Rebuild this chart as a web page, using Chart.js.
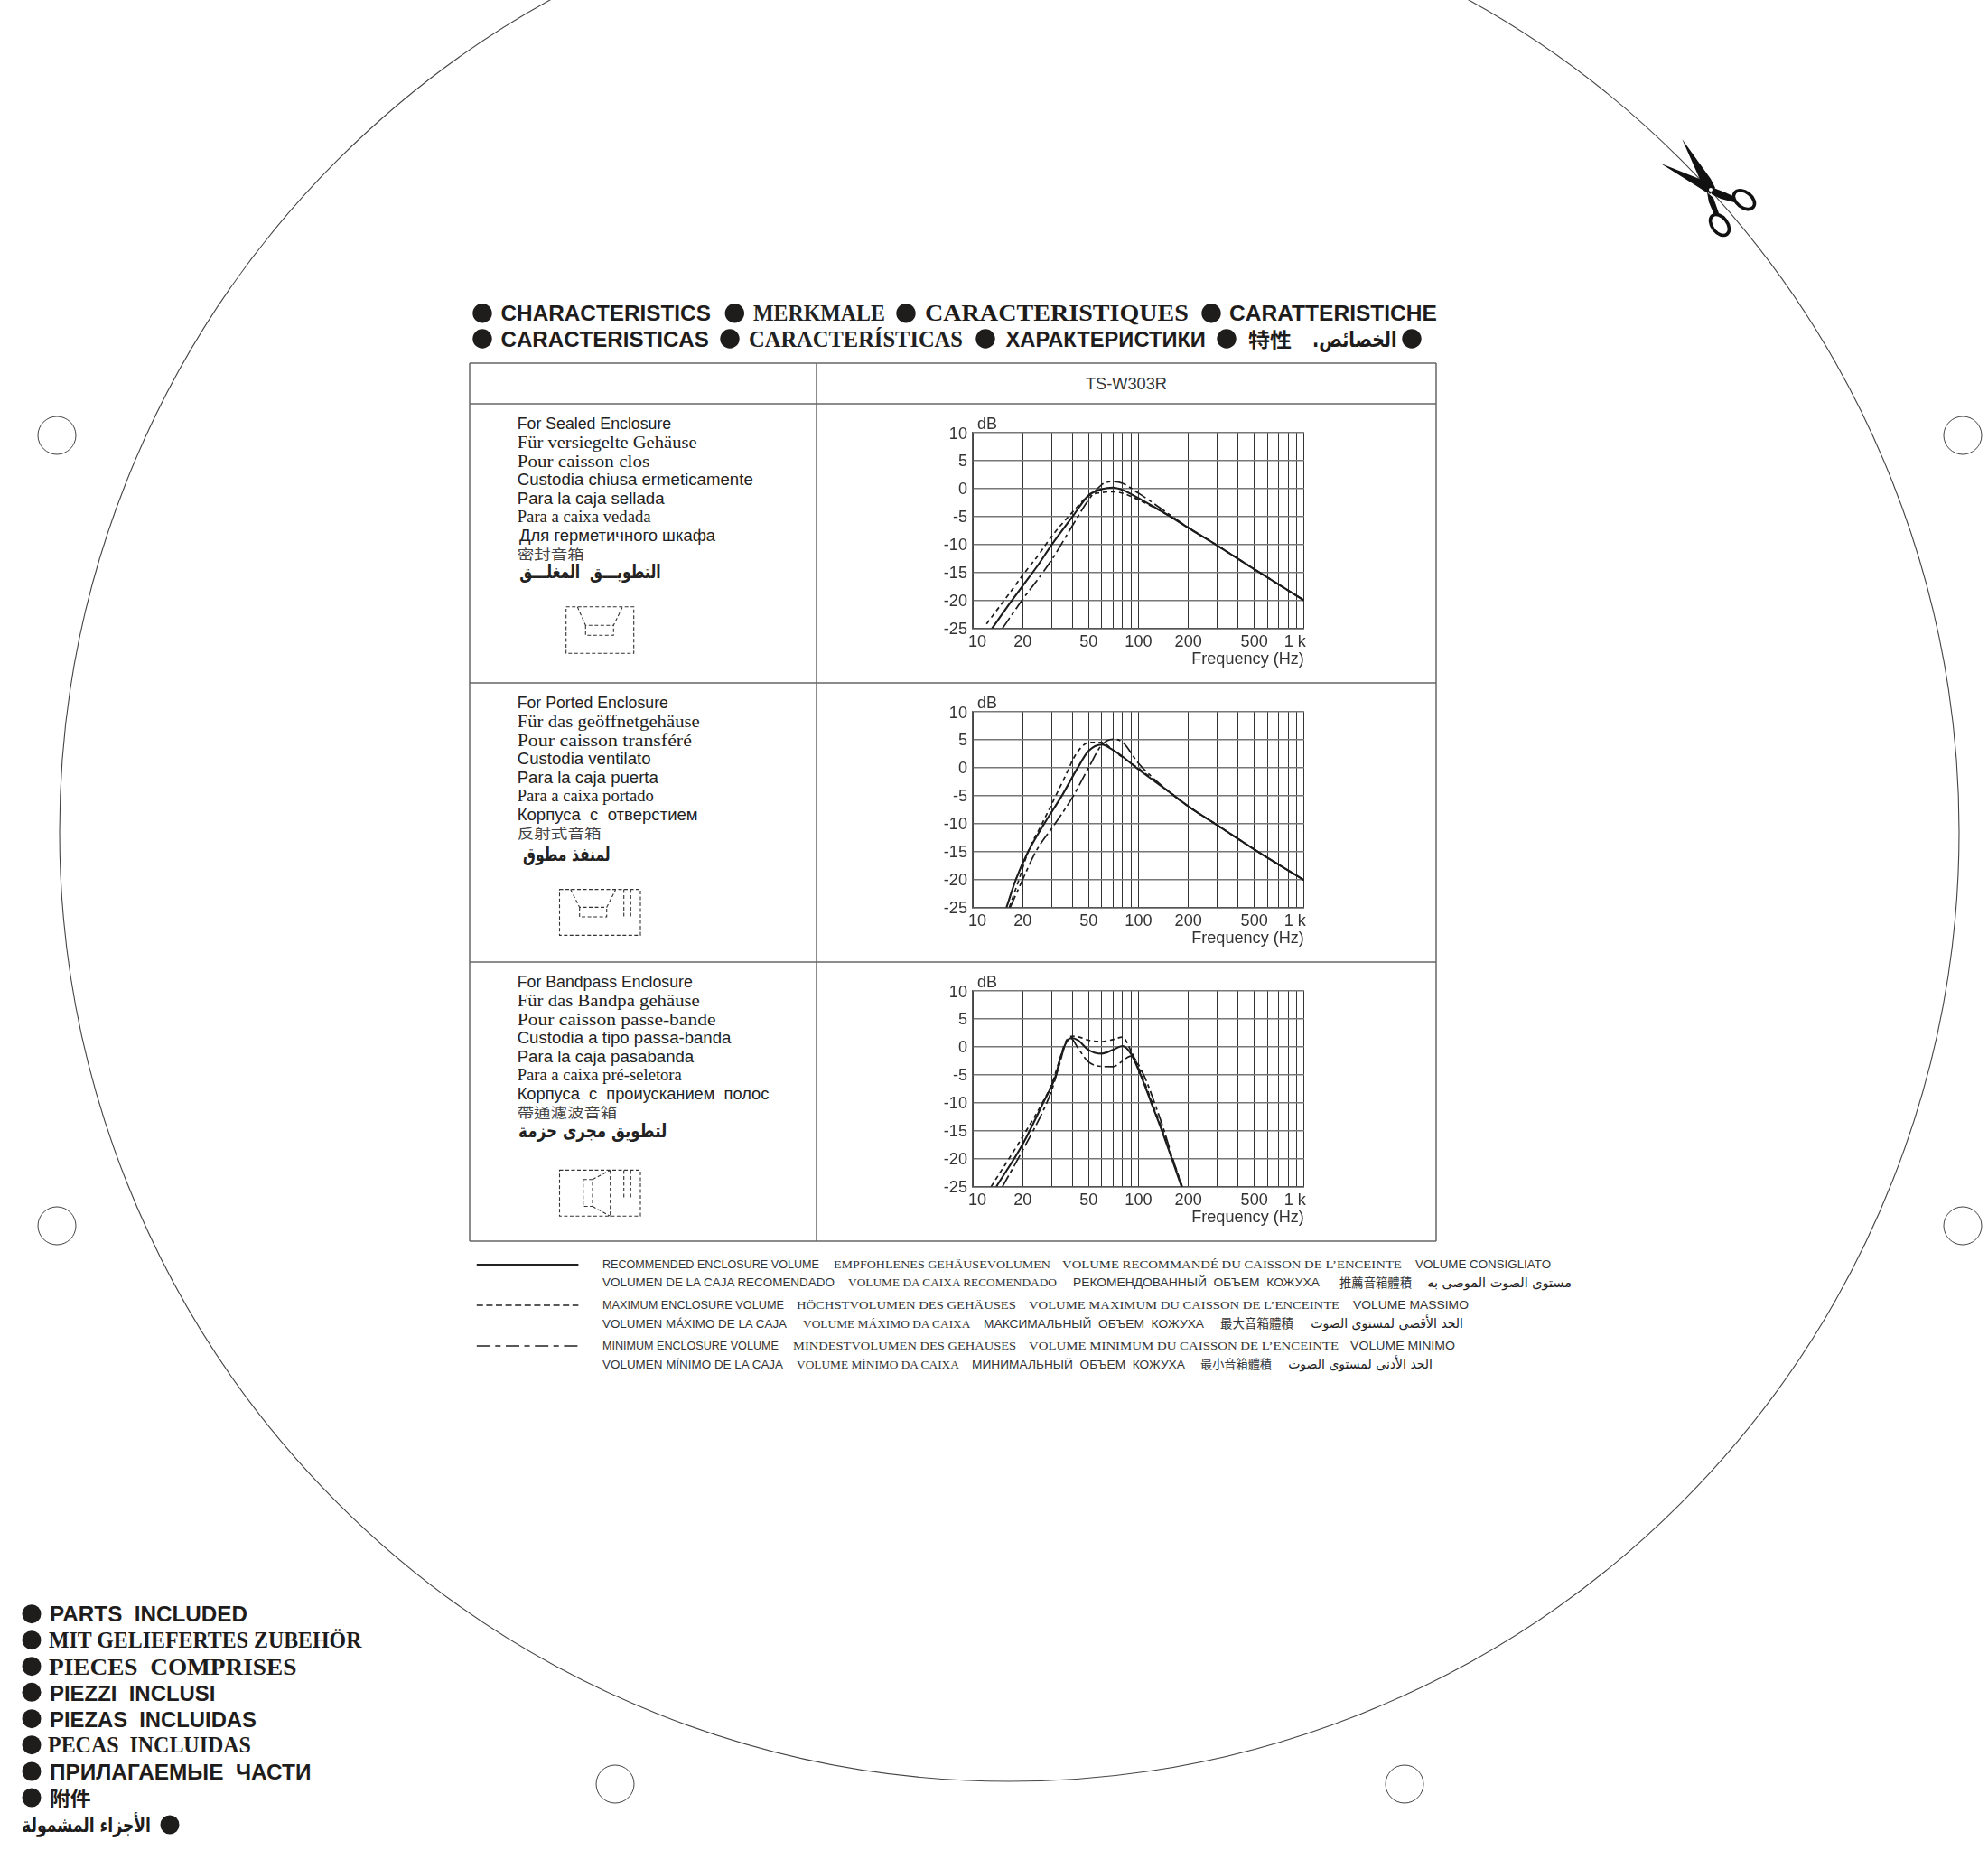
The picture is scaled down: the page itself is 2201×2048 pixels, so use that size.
<!DOCTYPE html>
<html><head><meta charset="utf-8">
<script src="https://cdn.jsdelivr.net/npm/chart.js@4"></script>
<style>
html,body{margin:0;padding:0;background:#fff;width:2201px;height:2048px;overflow:hidden}
#art{position:absolute;left:0;top:0}
canvas{position:absolute}
text{white-space:pre}
</style></head><body>
<svg id="art" width="2201" height="2048" xmlns="http://www.w3.org/2000/svg"></svg>
<canvas id="c1"></canvas><canvas id="c2"></canvas><canvas id="c3"></canvas>
<script>
// ---------- chart values ----------
const freqTicks=[10,20,30,40,50,60,70,80,90,100,200,300,400,500,600,700,800,900,1000];
const freqLabels={10:'  10',20:'20',50:'50',100:'100',200:'200',500:'500',1000:'1 k    '};
const dbTicks=[10,5,0,-5,-10,-15,-20,-25];
const seriesNames=['Recommended enclosure volume','Maximum enclosure volume','Minimum enclosure volume'];

const sealedRecF=[13.07,16,20,25,30,40,50,60,70,80,100,150,200,300,500,1000];
const sealedRecDb=[-25,-21.3,-17.4,-13.5,-10,-5,-1.2,-0.1,0.2,-0.2,-1.7,-4.7,-7,-10.2,-14.4,-20];
const sealedMaxF=[12.1,16,20,25,30,40,50,60,70,80,100,150,200,300,500,1000];
const sealedMaxDb=[-24.2,-19.4,-15.5,-11.8,-8.5,-4.2,-1.3,-0.7,-0.55,-0.8,-2,-4.7,-7,-10.2,-14.4,-20];
const sealedMinF=[15.1,20,25,30,40,50,60,70,80,100,150,200,300,500,1000];
const sealedMinDb=[-25,-19.8,-16,-12.7,-6.6,-2,0.7,1.25,0.95,-0.8,-4.4,-7,-10.2,-14.4,-20];

const portedRecF=[15.97,18.2,21.6,27,34.5,43,50,60,70,80,100,150,200,300,500,1000];
const portedRecDb=[-25,-20,-15,-10,-5,0,3,4.15,3.2,2,-0.3,-4.1,-6.9,-10.3,-14.6,-20.1];
const portedMaxF=[16.6,19,21.6,26.2,31.7,38.2,40,45,50,60,70,80,100,150,200,300,500,1000];
const portedMaxDb=[-25,-20,-15,-10,-5,0,1.35,3.6,4.5,4.55,3.2,1.9,-0.1,-4.1,-6.9,-10.3,-14.6,-20.1];
const portedMinF=[16.8,20,24,31.4,40.5,50,60,70,80,100,150,200,300,500,1000];
const portedMinDb=[-25,-20,-15,-10,-5,0,4.05,5.1,4.6,0.8,-4.1,-6.9,-10.3,-14.6,-20.1];

const bandRecF=[13.86,20,26.6,31.8,33.2,36.4,39.5,43,50,60,70,80,90,103,119.5,138.6,159,182];
const bandRecDb=[-25,-17.4,-10,-5,-2.8,0.65,1.6,1.2,-0.55,-1.2,-0.55,0.15,-1.2,-5,-10,-15,-20,-25];
const bandMaxF=[12.9,20,27.1,30,33.2,36.4,40,44,50,60,70,80,90,104.6,121,140,160.5,183];
const bandMaxDb=[-25,-16.05,-9.3,-6.6,-2.6,0.95,1.9,1.75,1.2,0.95,1.3,1.75,-0.7,-5,-10,-15,-20,-25];
const bandMinF=[15.1,20,27.1,30,33.2,36.4,39.2,43,50,60,70,80,90,107.5,125,143,161,184];
const bandMinDb=[-25,-18.5,-10.9,-7.7,-3.4,0.65,1.5,-0.15,-2.7,-3.5,-3.55,-2.55,-1.65,-5,-10,-15,-20,-25];

// ---------- charts ----------
function pts(f,d){return f.map((x,i)=>({x:x,y:d[i]}));}
const styles=[{w:2.1,dash:[]},{w:1.7,dash:[5,4]},{w:1.7,dash:[14,4,4,4]}];
function makeChart(id,top,series){
  const cv=document.getElementById(id);
  const W=470,H=291;
  cv.width=W;cv.height=H;cv.style.width=W+'px';cv.style.height=H+'px';cv.style.left='1000px';cv.style.top=top+'px';
  return new Chart(cv,{type:'line',
    data:{datasets:series.map((s,i)=>({label:seriesNames[i],data:pts(s[0],s[1]),borderColor:'#1c1c1c',borderWidth:styles[i].w,borderDash:styles[i].dash,pointRadius:0,fill:false,cubicInterpolationMode:'monotone'}))},
    options:{responsive:false,animation:false,devicePixelRatio:1,
      layout:{autoPadding:false,padding:{top:11,right:25.7,left:0,bottom:0}},
      plugins:{legend:{display:false},tooltip:{enabled:false},
        title:{display:true,text:' dB',align:'start',fullSize:false,color:'#333',padding:0,font:{family:'Liberation Sans',size:18,weight:'normal',lineHeight:1}}},
      scales:{
        x:{type:'logarithmic',min:10,max:1000,
          afterBuildTicks:s=>{s.ticks=freqTicks.map(v=>({value:v}));},
          afterFit:s=>{s.height=45.3;},
          grid:{color:'#333',lineWidth:1,drawTicks:false},border:{color:'#555',width:1.5},
          ticks:{autoSkip:false,maxRotation:0,minRotation:0,padding:4,color:'#333',font:{family:'Liberation Sans',size:18.1},callback:v=>freqLabels[v]||''},
          title:{display:true,text:'Frequency (Hz)',align:'end',color:'#333',padding:{top:0,bottom:0},font:{family:'Liberation Sans',size:18.1}}},
        y:{min:-25,max:10,
          afterBuildTicks:s=>{s.ticks=dbTicks.map(v=>({value:v}));},
          afterFit:s=>{s.width=77;},
          grid:{color:'#777',lineWidth:1.5,drawTicks:false},border:{color:'#555',width:1.5},
          ticks:{autoSkip:false,padding:6,labelOffset:1.5,color:'#333',font:{family:'Liberation Sans',size:18.1},callback:v=>String(v)}}
      }}});
}
makeChart('c1',450,[[sealedRecF,sealedRecDb],[sealedMaxF,sealedMaxDb],[sealedMinF,sealedMinDb]]);
makeChart('c2',759.3,[[portedRecF,portedRecDb],[portedMaxF,portedMaxDb],[portedMinF,portedMinDb]]);
makeChart('c3',1068.3,[[bandRecF,bandRecDb],[bandMaxF,bandMaxDb],[bandMinF,bandMinDb]]);

// ---------- page furniture ----------
const NS='http://www.w3.org/2000/svg',art=document.getElementById('art');
function el(n,a){const e=document.createElementNS(NS,n);for(const k in a)e.setAttribute(k,a[k]);art.appendChild(e);return e;}
const SANS='Liberation Sans',SERIF='Liberation Serif',SC='Noto Sans CJK SC',TC='Noto Sans CJK TC',AR='DejaVu Sans';
function T(s,x1,x2,y,fam,w,size,col,rtl){
  const t=el('text',{'font-family':fam,'font-weight':w,'font-size':size,fill:col||'#222'});
  t.textContent=s;
  if(rtl)t.style.direction='rtl';
  const len=t.getComputedTextLength();
  const sx=(x2-x1)/len;
  t.setAttribute('transform','translate('+(rtl?x2:x1)+','+y+') scale('+sx+',1)');
}
function dot(x,y,r){el('circle',{cx:x,cy:y,r:r||10.7,fill:'#1f1c1c'});}
function L(x1,y1,x2,y2,o){el('line',Object.assign({x1,y1,x2,y2,stroke:'#666','stroke-width':1.5},o||{}));}

// cut line and holes
el('circle',{cx:1117.5,cy:920.5,r:1051.5,fill:'none',stroke:'#444','stroke-width':1.1});
[[63,482],[2173,482],[63,1357],[2173,1357],[681,1975],[1555,1975]].forEach(p=>el('circle',{cx:p[0],cy:p[1],r:21,fill:'#fff',stroke:'#444','stroke-width':1}));

// scissors
el('path',{d:'M1862.3,154 L1894,198 L1899,208 L1893,215 L1884,203 Z',fill:'#111'});
el('path',{d:'M1838.3,180.7 L1884,199 L1895,205 L1891,214 L1880,207 Z',fill:'#111'});
el('path',{d:'M1892,206 L1910,213 L1923,219 L1920,224 L1905,220 L1895,215 Z',fill:'#111'});
el('path',{d:'M1890,213 L1897,219 L1903,236 L1898,238 L1892,224 Z',fill:'#111'});
el('ellipse',{cx:1931,cy:221.2,rx:13,ry:8.5,fill:'#fff',stroke:'#111','stroke-width':3.6,transform:'rotate(38 1931 221.2)'});
el('ellipse',{cx:1904,cy:249,rx:13,ry:8.5,fill:'#fff',stroke:'#111','stroke-width':3.6,transform:'rotate(52 1904 249)'});
el('circle',{cx:1894,cy:210,r:2,fill:'#fff'});

// table
[402,447,756,1065,1374].forEach(y=>L(520,y,1590,y));
[520,904,1590].forEach(x=>L(x,402,x,1374));
T('TS-W303R',1202,1292,431,SANS,'normal',18,'#333');

// heading
[[534,346.7],[813.3,346.7],[1003,346.7],[1341,346.7],[534,375],[808,375],[1091,375],[1358,375],[1563,375]].forEach(p=>dot(p[0],p[1]));
T('CHARACTERISTICS',554.5,787,355,SANS,'bold',24.5,'#1f1c1c');
T('MERKMALE',834,980,355,SERIF,'bold',24.5,'#222');
T('CARACTERISTIQUES',1024,1316,355,SERIF,'bold',24.5,'#1f1c1c');
T('CARATTERISTICHE',1361,1591,355,SANS,'bold',24.5,'#1f1c1c');
T('CARACTERISTICAS',554.5,785,384,SANS,'bold',24.5,'#1f1c1c');
T('CARACTERÍSTICAS',829,1066,384,SERIF,'bold',24.5,'#222');
T('ХАРАКТЕРИСТИКИ',1113.5,1335,384,SANS,'bold',24.5,'#1f1c1c');
T('特性',1382,1430,384,SC,'bold',22,'#1f1c1c');
T('الخصائص.',1453,1546.5,384,AR,'bold',24,'#1f1c1c',true);

// row text blocks
const R=[[
 ['For Sealed Enclosure',572.7,743.3,475,SANS],['Für versiegelte Gehäuse',572.7,771.7,495.7,SERIF],['Pour caisson clos',572.7,719.3,516.7,SERIF],
 ['Custodia chiusa ermeticamente',572.7,834,537.3,SANS],['Para la caja sellada',572.7,735.7,558,SANS],['Para a caixa vedada',572.7,720.7,578,SERIF],
 ['Для герметичного шкафа',575,792.3,598.7,SANS],['密封音箱',572.7,646.7,618.5,SC]],[
 ['For Ported Enclosure',572.7,740,784,SANS],['Für das geöffnetgehäuse',572.7,775,804.7,SERIF],['Pour caisson transféré',572.7,766,825.7,SERIF],
 ['Custodia ventilato',572.7,720.7,846.3,SANS],['Para la caja puerta',572.7,729,867,SANS],['Para a caixa portado',572.7,724,887,SERIF],
 ['Корпуса  с  отверстием',572.7,772.7,907.7,SANS],['反射式音箱',572.7,665.7,927.5,SC]],[
 ['For Bandpass Enclosure',572.7,767,1093,SANS],['Für das Bandpa gehäuse',572.7,775,1113.7,SERIF],['Pour caisson passe-bande',572.7,792.7,1134.7,SERIF],
 ['Custodia a tipo passa-banda',572.7,809.3,1155.3,SANS],['Para la caja pasabanda',572.7,768.3,1176,SANS],['Para a caixa pré-seletora',572.7,755,1196,SERIF],
 ['Корпуса  с  проиусканием  полос',572.7,851.7,1216.7,SANS],['帶通濾波音箱',572.7,683.3,1236.5,TC]]];
R.forEach(r=>r.forEach(a=>{const cjk=a[4]===SC||a[4]===TC;T(a[0],a[1],a[2],a[3],a[4],'normal',cjk?15:18.5,cjk?'#444':'#222');}));
T('التطويـــق  المغلـــق',575,731.7,640,AR,'bold',21,'#222',true);
T('لمنفذ مطوق',579,675.7,953,AR,'bold',21,'#222',true);
T('لتطويق مجرى حزمة',574,738.3,1259,AR,'bold',21,'#222',true);

// enclosure icons
const dash={stroke:'#333','stroke-width':1.1,'stroke-dasharray':'4 2.5',fill:'none'};
function P(d){el('path',Object.assign({d},dash));}
P('M626.7,671.7H701.7V723.3H626.7Z M639.3,671.7L648.3,692.3H679.3L689.3,671.7 M648.3,692.3V703.3H679.3V692.3');
P('M619.5,984.6H709V1035.4H619.5Z M631.7,984.6L641.7,1004.4H671.7L681.7,984.6 M641.7,1004.4V1015H671.7V1004.4 M690.7,984.6V1015 M698.3,984.6V1015');
P('M619.5,1295.4H709V1346.3H619.5Z M675.7,1295.4V1346.3 M645.7,1305.7H656V1335.5H645.7Z M656,1305.7L675.7,1295.4 M656,1335.5L675.7,1346.3 M690.7,1295.4V1326 M698.3,1295.4V1326');

// legend
L(527.8,1400,640.4,1400,{stroke:'#222','stroke-width':2});
L(527.8,1445,640.4,1445,{stroke:'#222','stroke-width':1.7,'stroke-dasharray':'7 3.6'});
L(527.8,1490,640.4,1490,{stroke:'#222','stroke-width':1.7,'stroke-dasharray':'15 5.5 6 5.7'});
const LC='#333';
[
 ['RECOMMENDED ENCLOSURE VOLUME',667,907,1404,SANS],['EMPFOHLENES GEHÄUSEVOLUMEN',923,1163,1404,SERIF],['VOLUME RECOMMANDÉ DU CAISSON DE L’ENCEINTE',1176,1552,1404,SERIF],['VOLUME CONSIGLIATO',1567,1717,1404,SANS],
 ['VOLUMEN DE LA CAJA RECOMENDADO',667,924,1424,SANS],['VOLUME DA CAIXA RECOMENDADO',939,1170,1424,SERIF],['РЕКОМЕНДОВАННЫЙ  ОБЪЕМ  КОЖУХА',1188,1461,1424,SANS],['推薦音箱體積',1483,1563,1425,TC],
 ['MAXIMUM ENCLOSURE VOLUME',667,868,1449,SANS],['HÖCHSTVOLUMEN DES GEHÄUSES',882,1125,1449,SERIF],['VOLUME MAXIMUM DU CAISSON DE L’ENCEINTE',1139,1483,1449,SERIF],['VOLUME MASSIMO',1498,1626,1449,SANS],
 ['VOLUMEN MÁXIMO DE LA CAJA',667,871,1469.5,SANS],['VOLUME MÁXIMO DA CAIXA',889,1074.5,1469.5,SERIF],['МАКСИМАЛЬНЫЙ  ОБЪЕМ  КОЖУХА',1089,1333,1469.5,SANS],['最大音箱體積',1351,1432,1469.5,TC],
 ['MINIMUM ENCLOSURE VOLUME',667,862,1494,SANS],['MINDESTVOLUMEN DES GEHÄUSES',878,1125,1494,SERIF],['VOLUME MINIMUM DU CAISSON DE L’ENCEINTE',1139,1482,1494,SERIF],['VOLUME MINIMO',1495,1611,1494,SANS],
 ['VOLUMEN MÍNIMO DE LA CAJA',667,867,1514.5,SANS],['VOLUME MÍNIMO DA CAIXA',882,1062,1514.5,SERIF],['МИНИМАЛЬНЫЙ  ОБЪЕМ  КОЖУХА',1076,1312,1514.5,SANS],['最小音箱體積',1329,1408,1514.5,TC]
].forEach(a=>T(a[0],a[1],a[2],a[3],a[4],'normal',13.2,LC));
T('مستوى الصوت الموصى به',1580,1740,1425,AR,'normal',15,'#222',true);
T('الحد الأقصى لمستوى الصوت',1451,1620,1470,AR,'normal',15,'#222',true);
T('الحد الأدنى لمستوى الصوت',1426,1586,1515,AR,'normal',15,'#222',true);

// parts list
[1786.7,1815.7,1844.7,1873.3,1902.7,1931.7,1961,1990].forEach(y=>dot(35,y,10.5));
dot(188,2020,10.5);
[
 ['PARTS  INCLUDED',55,274,1795.3,SANS],['MIT GELIEFERTES ZUBEHÖR',54,400.5,1824.3,SERIF],['PIECES  COMPRISES',54,328.5,1853.5,SERIF],
 ['PIEZZI  INCLUSI',55,238.5,1882.5,SANS],['PIEZAS  INCLUIDAS',55,284,1911.5,SANS],['PECAS  INCLUIDAS',53,278,1940,SERIF],
 ['ПРИЛАГАЕМЫЕ  ЧАСТИ',55,344.5,1969.5,SANS]
].forEach(a=>T(a[0],a[1],a[2],a[3],a[4],'bold',24.5,'#1f1c1c'));
T('附件',55,100.7,1999,SC,'bold',22,'#1f1c1c');
T('الأجزاء المشمولة',24,167,2028,AR,'bold',23,'#1f1c1c',true);
</script>
</body></html>
